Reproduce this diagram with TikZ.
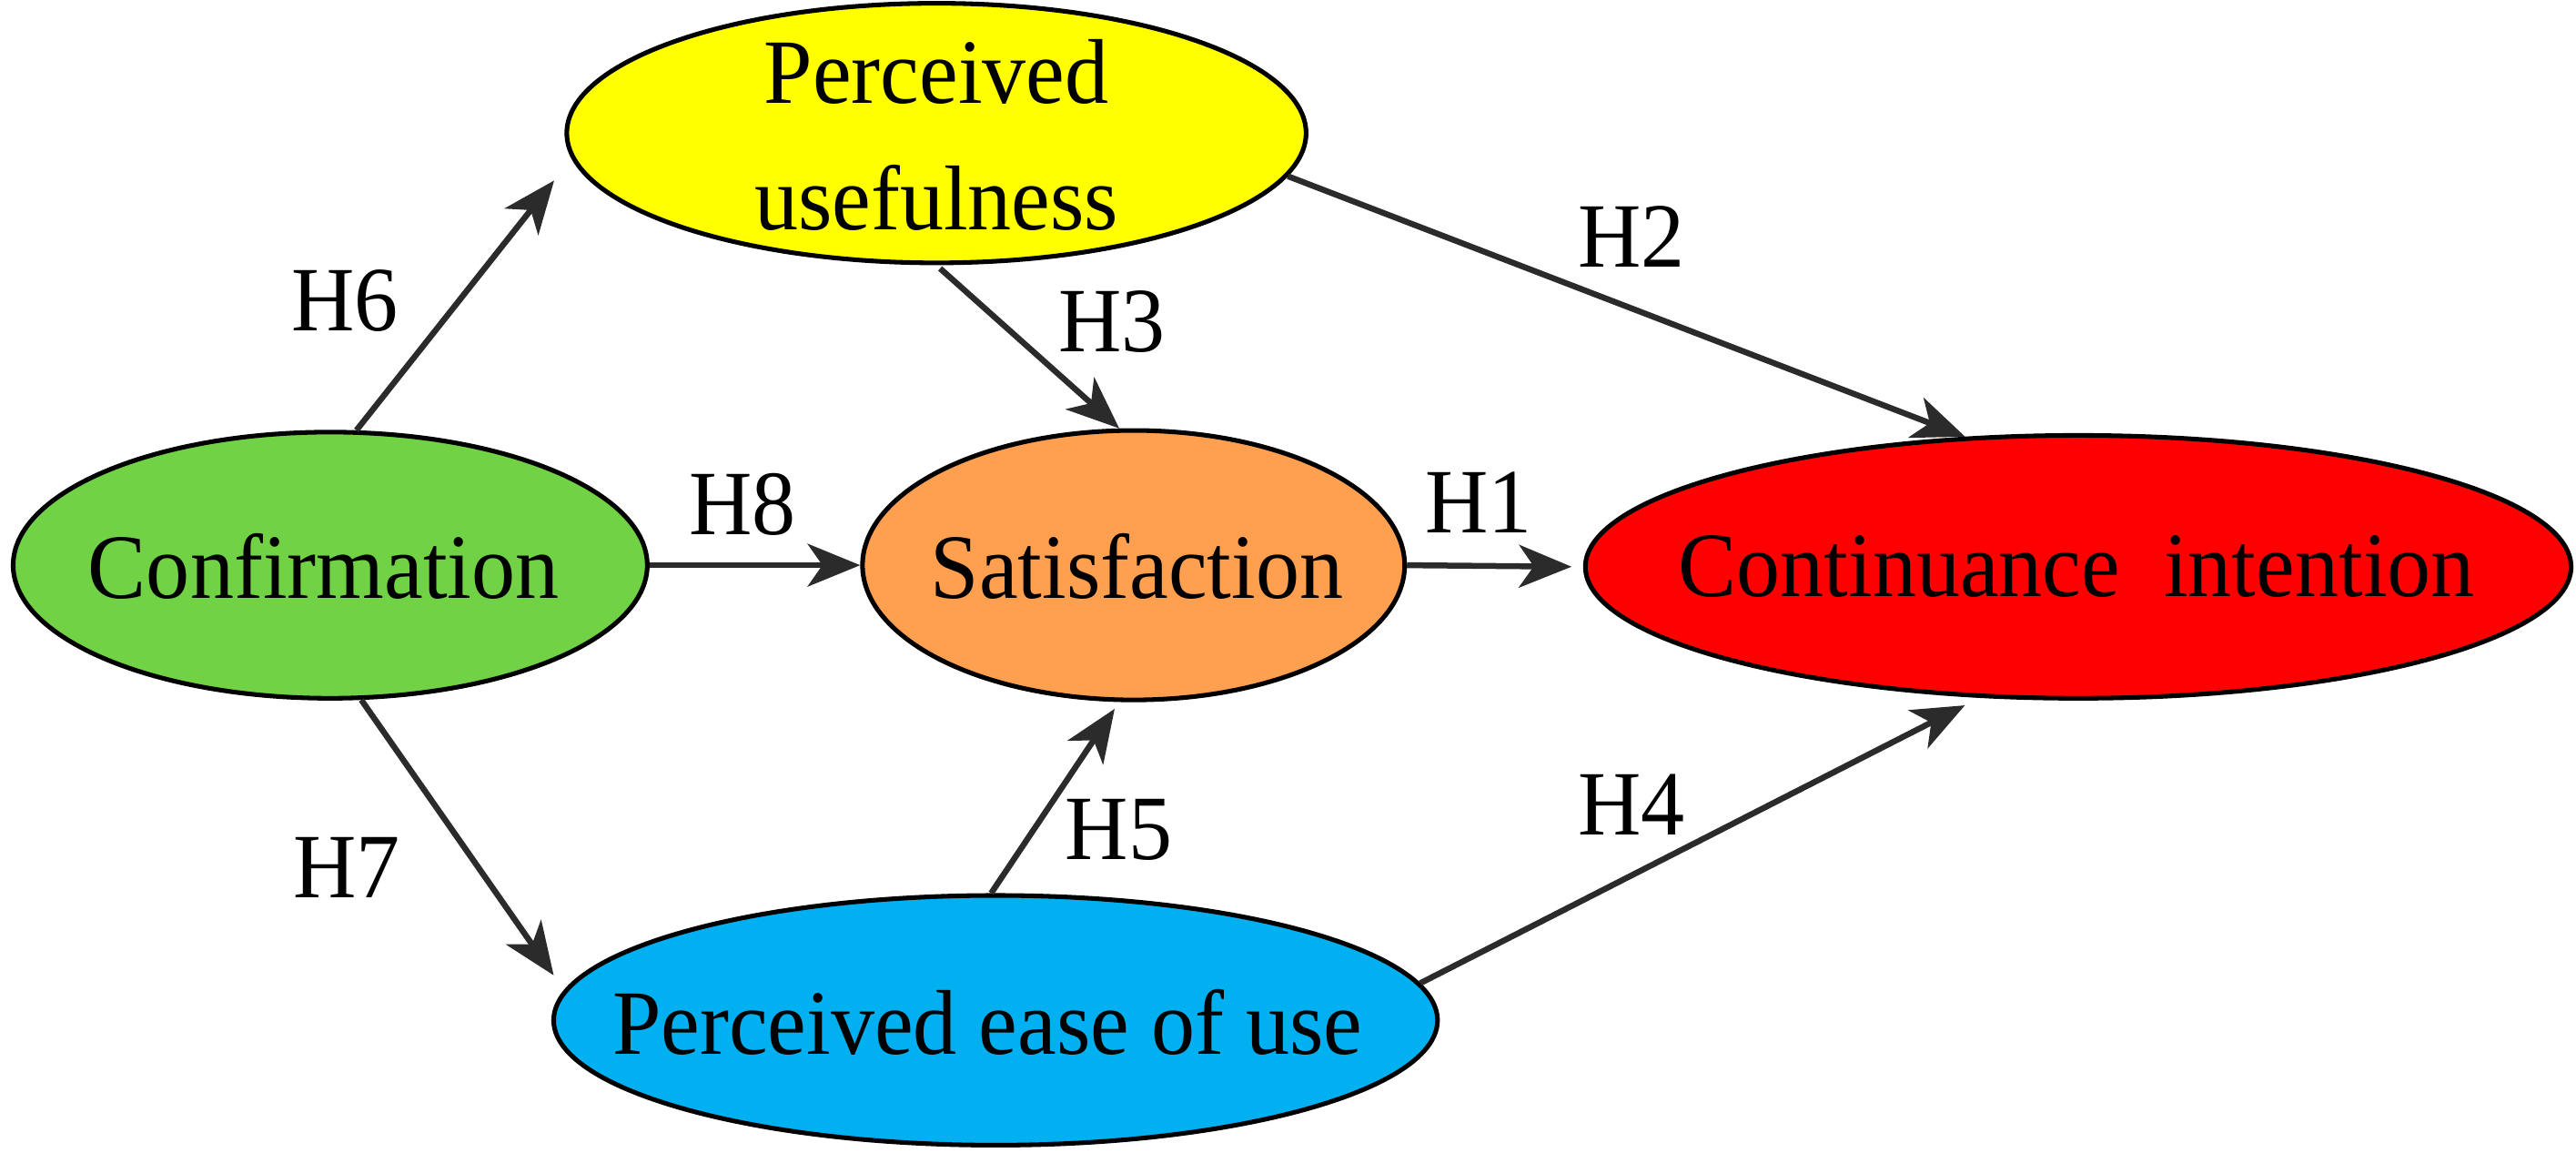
\documentclass[tikz,border=0pt]{standalone}
\usepackage{fontspec}
\setmainfont[FakeStretch=0.95]{Liberation Serif}
\usetikzlibrary{arrows.meta,shapes.geometric}
\definecolor{confgreen}{RGB}{112,210,68}
\definecolor{puyellow}{RGB}{255,255,0}
\definecolor{satorange}{RGB}{255,160,80}
\definecolor{cired}{RGB}{255,0,0}
\definecolor{peoublue}{RGB}{0,176,240}
\definecolor{arrowgray}{RGB}{43,43,43}
\begin{document}
\begin{tikzpicture}[x=1pt,y=-1pt,
  construct/.style={ellipse, draw=black, line width=2.8pt, inner sep=0pt},
  ctext/.style={inner sep=0pt, align=center, font=\fontsize{56}{77}\selectfont},
  link/.style={draw=arrowgray, line width=3.6pt, -{Stealth[length=32pt,width=26pt,inset=9pt]}},
  hlabel/.style={inner sep=0pt, font=\fontsize{56}{66}\selectfont}]
\useasboundingbox (0,0) rectangle (1568,713.4);

% ellipses
\node[construct, fill=confgreen, minimum width=386pt, minimum height=162pt] (conf) at (201,344) {};
\node[construct, fill=puyellow, minimum width=450pt, minimum height=158pt] (pu) at (570,81) {};
\node[construct, fill=satorange, minimum width=330pt, minimum height=164pt] (sat) at (690,344) {};
\node[construct, fill=cired, minimum width=600pt, minimum height=160pt] (ci) at (1265,345) {};
\node[construct, fill=peoublue, minimum width=538pt, minimum height=152pt] (peou) at (606,621) {};

% texts
\node[ctext] (conft) at (197,345) {Confirmation};
\node[ctext] (put) at (570,82) {Perceived\\usefulness};
\node[ctext] (satt) at (692,345) {Satisfaction};
\node[ctext] (cit) at (1264,345) {Continuance\ \ intention};
\node[ctext] (peout) at (601,622) {Perceived ease of use};

% connectors
\draw[link, shorten >=17pt] (conf.79) -- (pu.184);
\draw[link, shorten <=3pt] (pu.270) -- (sat.96);
\draw[link] (conf.0) -- (sat.180);
\draw[link] (pu.353) -- (ci.131);
\draw[link, shorten >=7pt] (sat.0) -- (ci.180);
\draw[link, shorten >=11pt] (conf.283) -- (peou.176);
\draw[link, shorten >=5pt] (peou.92) -- (sat.264);
\draw[link, shorten >=10pt] (peou.5) -- (ci.233);

% labels
\node[hlabel] (h6) at (210,183) {H6};
\node[hlabel] (h3) at (677,196) {H3};
\node[hlabel] (h8) at (452,307) {H8};
\node[hlabel] (h2) at (993,144) {H2};
\node[hlabel] (h1) at (900,306) {H1};
\node[hlabel] (h7) at (211,528) {H7};
\node[hlabel] (h5) at (681,505) {H5};
\node[hlabel] (h4) at (993,490) {H4};
\end{tikzpicture}
\end{document}
